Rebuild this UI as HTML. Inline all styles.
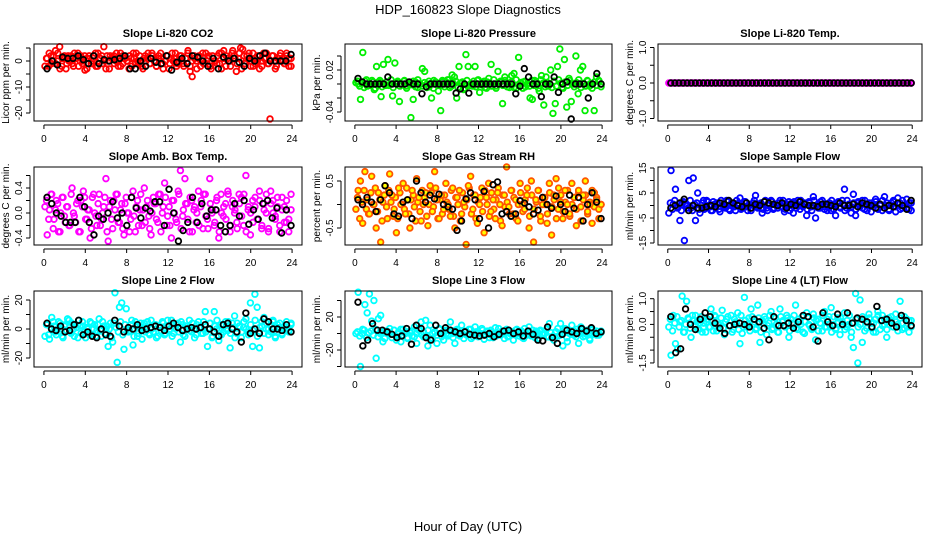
<!DOCTYPE html>
<html><head><meta charset="utf-8"><style>
html,body{margin:0;padding:0;background:#fff;}
svg{display:block;font-family:"Liberation Sans",Arial,sans-serif;}
</style></head><body>
<svg id="chart" width="936" height="540" viewBox="0 0 936 540" xmlns="http://www.w3.org/2000/svg">
<text x="468" y="14" text-anchor="middle" font-size="13">HDP_160823  Slope Diagnostics</text>
<text x="468" y="531" text-anchor="middle" font-size="13">Hour of Day (UTC)</text>
</svg>
<script>
const xTicks=[0,4,8,12,16,20,24];
const titles=["Slope Li-820 CO2","Slope Li-820 Pressure","Slope Li-820 Temp.","Slope Amb. Box Temp.","Slope Gas Stream RH","Slope Sample Flow","Slope Line 2 Flow","Slope Line 3 Flow","Slope Line 4 (LT) Flow"];
const yTitles=["Licor ppm per min.","kPa per min.","degrees C per min.","degrees C per min.","percent per min.","ml/min per min.","ml/min per min.","ml/min per min.","ml/min per min."];
const yTickVals=[[5,0,-5,-10,-15,-20],[0.04,0.02,0,-0.02,-0.04],[1,0.5,0,-0.5,-1],[0.6,0.4,0.2,0,-0.2,-0.4],[0.5,0,-0.5],[15,10,5,0,-5,-10,-15],[20,10,0,-10,-20],[40,20,0,-20,-40],[1,0.5,0,-0.5,-1,-1.5]];
const yTickLabels=[["","0","","-10","","-20"],["","0.02","","","-0.04"],["1.0","","0.0","","-1.0"],["","0.4","","0.0","","-0.4"],["0.5","","-0.5"],["15","","5","","-5","","-15"],["20","","0","","-20"],["","20","","-20",""],["1.0","","0.0","","","-1.5"]];
const colors=["#ff0000","#00ee00","#ff00ff","#ff00ff","#ff5500","#0000ff","#00ffff","#00ffff","#00ffff"];
const fills=["none","none","none","none","#ffff00","none","none","none","none"];

const co2Color=[-2,1,3,-1,2,4,0,5.5,-2,1,-3,2,0,-1,3,1,-2,2,0,-3.5,1,2,-1,0,3,-2,1,2,5.5,-3,0,2,1,-1,3,0,-2,2,1,0,-3,1,3,-1,0,2,-2,1,0,3,-1,2,0,-2,1,3,-1,0,2,-3,1,0,3,-1,2,0,-2,1,4,-4,-6,2,0,1,-2,3,-1,0,2,-3,1,0,2,-1,3,4,-2,1,0,3,2,-4,1,5,4.5,-1,2,3,0,-2,1,2,-3,0,3,1,-1,-22.3,2,0,-2,1,3,0,-1,2,1,-2];
const co2Band=[1,-2,2,0,-1,3,-3,1,2,-1,0,2,-2,1,3,0,-1,2,-3,1,0,2,-2,3,1,-1,0,2,-3,1,2,0,-2,3,-1,1,0,2,-2,1,3,-1,0,-3,2,1,-1,3,0,-2,2,1,-3,0,2,-1,3,1,-2,0,2,-1,1,3,-2,0,1,-3,2,0,-1,3,1,-2,2,0,-1,3,-3,1,2,0,-2,4,1,-1,3,-3,2,0,1,-2,3,-1,0,2,-2,1,3,-1,0,2,-3,1,2,0,-1,3,-2,1];
const co2Black=[-3,0,-1.5,1.5,1,1,2,0.5,-1,2,-1,0.5,0,0.5,1,2,-3,-3,0,-2,1,-0.5,-1,2,-3.5,-0.5,1,-1,2,1.5,0,-2,1,-3,1.5,0,1,-0.5,-2,1,0,2,3,0,0,0,0,2.5];
const presColor=[0.002,0,-0.022,0.045,0.004,-0.003,0,0.005,-0.008,0.025,0.003,-0.018,0.028,-0.002,0.035,0,-0.017,0.03,0.002,-0.025,0,0.004,-0.003,0,-0.048,-0.022,0.003,-0.005,0,0.022,0.018,0,-0.004,-0.02,0.005,0,-0.01,-0.038,0.003,0,0.006,-0.005,0.013,0.01,-0.02,0.025,0.002,-0.008,0.042,0.025,0,-0.003,0.025,0.005,-0.012,0,0.004,-0.006,0.008,0.028,0,-0.003,0.018,0.003,-0.028,0.01,0,-0.005,0.012,0.015,-0.006,0.038,0.002,0.003,-0.004,0,-0.02,-0.022,0.005,0,-0.01,0.012,-0.03,0.01,-0.003,0.02,-0.042,-0.028,0.025,0.05,-0.005,0.035,-0.033,0.008,-0.025,0,0.04,-0.014,0.02,0.025,-0.038,0.005,-0.003,0,-0.038,0.01,0.004,0];
const presBand=[0.004,-0.003,0.001,-0.005,0.006,0,-0.002,0.003,-0.006,0.002,0.005,-0.004,0,0.003,-0.002,0.006,-0.005,0.001,0.004,-0.003,0,0.005,-0.006,0.002,-0.001,0.004,-0.004,0.006,0,-0.003,0.002,-0.005,0.004,0.001,-0.006,0.003,0,-0.002,0.005,-0.004,0.002,0.006,-0.003,0,0.004,-0.005,0.001,0.003,-0.006,0.005,-0.002,0,0.004,-0.004,0.006,-0.001,0.002,-0.005,0.003,0,-0.003,0.006,-0.006,0.001,0.004,-0.002,0.005,-0.004,0,0.003,-0.005,0.006,-0.001,0.002,-0.006,0.004,0,-0.003,0.005,-0.002,0.003,-0.006,0.006,0.001,-0.004,0.002,0,-0.005,0.004,-0.003,0.006,0.001,-0.006,0.003,-0.002,0.005,0,-0.004,0.002,0.006,-0.005,0.001,-0.003,0.004,0,-0.006,0.003,-0.002,0.005,-0.004];
const presBlack=[0.008,0.003,0,0,0,0,0,0.01,0,0,0,0,0.003,0,0,-0.014,-0.004,0,0,0,0,0,0,-0.013,-0.007,0,-0.013,0,0,0,0,0,0,0,0,0,0,-0.014,-0.003,0.022,0.01,0,0,-0.018,0,0,0.01,-0.012,0,0.003,-0.05,0,0,0,-0.02,0,0.015,0];
const tempColor=[0,0,0,0,0,0,0,0,0,0,0,0,0,0,0,0,0,0,0,0,0,0,0,0,0,0,0,0,0,0,0,0,0,0,0,0,0,0,0,0,0,0,0,0,0,0,0,0,0,0,0,0,0,0,0,0,0,0,0,0,0,0,0,0,0,0,0,0,0,0,0,0,0,0,0,0,0,0,0,0];
const tempBand=[0,0,0,0,0,0,0,0,0,0,0,0,0,0,0,0,0,0,0,0,0,0,0,0,0,0,0,0,0,0,0,0,0,0,0,0,0,0,0,0,0,0,0,0,0,0,0,0,0,0,0,0,0,0,0,0,0,0,0,0,0,0,0,0,0,0,0,0,0,0,0,0,0,0,0,0,0,0,0,0,0,0,0,0,0,0,0,0,0,0,0,0,0,0,0,0,0,0,0,0,0,0,0,0,0,0,0,0,0,0,0,0,0,0,0,0,0,0,0,0];
const tempBlack=[0,0,0,0,0,0,0,0,0,0,0,0,0,0,0,0,0,0,0,0,0,0,0,0,0,0,0,0,0,0,0,0,0,0,0,0,0,0,0,0,0,0,0,0,0,0,0,0,0,0,0,0,0,0,0,0,0,0,0,0];
const boxColor=[0.1,-0.35,0.05,0.3,-0.1,0.2,-0.3,0.0,0.25,-0.15,0.1,-0.2,0.4,-0.05,0.15,-0.3,0.2,0.35,-0.1,0.05,-0.4,0.25,0.0,-0.2,0.3,-0.1,0.1,0.55,-0.45,0.2,-0.25,0.05,0.3,-0.15,0.15,-0.35,0.25,0.0,-0.1,0.35,-0.3,0.2,0.05,-0.2,0.4,0.1,-0.05,-0.35,0.25,0.15,-0.15,0.3,0.0,0.48,-0.2,0.1,-0.4,0.2,-0.1,0.35,0.68,-0.05,0.55,0.15,-0.3,0.2,0.05,-0.15,0.35,0.1,-0.25,0.3,-0.1,0.55,0.0,-0.2,0.2,-0.4,0.3,-0.05,0.15,0.35,-0.3,0.1,0.0,-0.15,0.3,0.25,-0.2,0.6,0.05,-0.35,0.2,0.1,-0.1,0.35,-0.25,0.15,0.0,-0.3,0.35,0.2,-0.1,0.25,-0.2,0.05,0.1,-0.15,-0.3,0.3];
const boxBand=[0.2,-0.1,0.3,-0.25,0.05,0.15,-0.3,0.25,-0.05,0.1,-0.2,0.3,0,-0.15,0.2,-0.3,0.1,0.25,-0.1,0.05,-0.25,0.3,-0.05,0.15,-0.2,0,0.25,-0.3,0.1,-0.1,0.2,0.3,-0.15,0.05,-0.25,0.15,0,-0.3,0.25,-0.05,0.1,-0.2,0.3,0.05,-0.15,0.2,-0.25,0,0.15,-0.1,0.3,-0.3,0.1,0.25,-0.05,-0.2,0.2,0,-0.15,0.3,-0.25,0.05,0.15,-0.1,0.25,-0.3,0.1,0,-0.2,0.2,0.3,-0.05,-0.25,0.15,0.05,-0.15,0.25,-0.3,0,0.1,-0.1,0.3,-0.2,0.2,0.05,-0.25,0.15,-0.05,0.3,-0.3,0.1,0,-0.15,0.25,-0.1,0.2,-0.2,0.05,0.3,-0.25,0.15,0,-0.05,0.1,-0.3,0.25,-0.15,0.2,-0.1,0.05];
const boxBlack=[0.25,0.15,0.0,-0.05,-0.15,-0.15,-0.15,0.25,0.1,-0.15,-0.35,-0.05,-0.1,0.0,0.18,-0.08,0.0,-0.2,0.25,0.08,-0.08,0.08,0.03,0.18,0.18,-0.2,0.38,0.0,-0.45,-0.28,-0.15,0.25,-0.15,0.15,-0.05,0.05,0.05,-0.2,-0.3,-0.2,0.15,-0.05,0.2,-0.18,0.05,-0.1,0.15,0.2,-0.08,0.08,-0.32,0.05,-0.2];
const rhColor=[-0.1,0.3,0.5,-0.4,0.7,0.1,-0.2,0.6,0.0,-0.5,0.25,-0.8,0.05,0.4,-0.3,0.65,0.2,-0.1,-0.6,0.35,0.0,0.45,-0.2,0.1,-0.5,0.3,-0.05,0.55,0.15,-0.35,0.0,0.25,-0.45,0.4,-0.15,0.7,0.1,-0.3,0.2,-0.1,0.45,0.0,-0.25,0.35,-0.5,0.15,0.3,-0.2,0.05,-0.85,0.4,0.6,-0.1,0.2,-0.4,0.0,0.35,-0.6,0.15,0.45,-0.15,0.1,-0.3,0.25,0.0,-0.45,0.2,0.8,-0.05,0.3,-0.2,0.1,-0.35,0.45,0.0,-0.1,0.2,-0.5,0.5,-0.8,0.1,0.3,-0.25,0.0,0.15,-0.4,0.45,-0.65,0.2,0.55,-0.1,0.05,-0.3,0.3,0.0,-0.2,0.45,0.15,-0.45,0.3,-0.05,0.2,0.5,-0.15,0.0,-0.4,0.25,0.1,-0.1,0.0];
const rhBand=[0.15,-0.3,0.05,0.3,-0.1,-0.2,0.25,0,0.35,-0.15,0.1,-0.35,0.2,-0.05,0.3,0.05,-0.25,0.15,-0.3,0.25,0,-0.1,0.35,-0.2,0.1,0.2,-0.35,0.05,-0.15,0.3,0.15,-0.25,0,0.25,-0.05,0.35,-0.3,0.1,-0.2,0.2,0.05,-0.1,0.3,-0.25,0.15,0,-0.35,0.25,-0.05,0.1,0.35,-0.2,0.2,-0.3,0.05,0.15,-0.15,0.3,0,-0.25,0.25,-0.1,0.1,0.35,-0.35,0.2,-0.05,0.05,-0.2,0.3,0.15,-0.3,0,0.25,-0.15,0.1,0.35,-0.25,0.2,-0.1,0.05,0.3,-0.35,0.15,0,-0.2,0.25,-0.05,0.1,-0.3,0.35,0.2,-0.15,0.05,0.3,-0.25,0,0.15,-0.1,0.25,-0.35,0.1,0.2,-0.2,0.05,0.3,-0.05,0.15,-0.3,0];
const rhBlack=[0.1,0.0,0.15,0.05,-0.15,0.1,0.4,0.25,-0.2,-0.25,0.05,0.1,-0.3,0.5,0.25,0.05,0.2,0.12,0.22,0.0,-0.05,-0.1,-0.55,-0.35,0.12,0.25,0.1,-0.3,0.28,-0.5,0.42,0.48,-0.2,-0.15,-0.25,-0.2,0.08,0.03,-0.05,-0.2,-0.12,0.15,0.0,-0.08,0.18,0.0,-0.15,0.2,-0.08,0.15,-0.35,0.0,0.25,0.05,-0.3];
const sampColor=[-3,14,0.5,6.5,-1,-6,1,-14,0.5,10,-1,11,-6,5,-3,1,-1.5,2,0,-2,1.5,-1,0.5,-2.5,1,-0.5,2,-1.5,0,1,-2,0.5,3,-1,1.5,-0.5,0,-2,1,4,-1,0.5,-3,1.5,-1,0,2,-1.5,0.5,-1,2,1,-2.5,0,1.5,-1,-3,0.5,2,-1.5,0,1,-4,1.5,-0.5,3.5,-5,0.5,-1,2,-1.5,0,1,-2,0.5,-4,1,-0.5,2,6.5,-1,0.5,-3,4.5,-4,1,-0.5,2,-1.5,0,1,-2.5,0.5,2.5,-1,0,-2,3.5,1,-1.5,0,2,-2.5,3,1,-1,0,2.5,-1.5,1];
const sampBand=[1,-1.5,2,-0.5,0.5,-2,1.5,0,-1,2,-2,0.5,1,-1.5,0,2,-1,1.5,-0.5,-2,0.5,1,-1.5,2,0,-1,1.5,-2,0.5,-0.5,2,1,-1.5,0,1.5,-2,0.5,-1,2,0,-0.5,1,-1.5,2,-2,0.5,1.5,-1,0,1,-0.5,2,-1.5,0.5,-2,1,1.5,-1,0,2,-0.5,0.5,-1.5,1,-2,2,0,-1,1.5,0.5,-0.5,-2,1,2,-1.5,0,1.5,-1,0.5,-2,2,0,-0.5,1,-1.5,1.5,0.5,-1,2,-2,0,1,-0.5,1.5,-1.5,0.5,2,-1,0,-2,1,1.5,-0.5,0.5,-1.5,2,0,-1,1,-2];
const sampBlack=[-1,0,1,2.5,-2,0,-1,-1,-0.5,0,-0.5,1,0.5,2,1,0,-0.5,1,-1,0.5,0,1.5,1,0.5,0,1,-1,0.5,0,1.5,0.5,0,0,-0.5,0.5,0.5,0,-0.5,1,0,0,0.5,-0.5,1,0.5,0,-1,0.5,-1,0,-0.5,1,0,-1.5,2];
const l2Color=[-5,3,-7,8,2,-4,5,0,-6,3,7,-2,4,-5,1,6,-3,2,-6,0,5,-4,3,-1,7,-5,2,0,-12,4,-9,25,-23,15,18,-14,14,-2,3,-11,5,-5,1,-7,4,0,-3,6,-2,3,-5,1,5,-4,2,-1,6,-3,0,4,-9,3,-5,2,6,-2,0,-4,5,1,-3,12,-12,4,-6,12,0,-8,3,-2,5,-1,-13,4,9,-3,2,-6,1,7,-2,18,-12,24,15,-13,5,8,0,-4,3,6,-5,1,4,-3,0,5,-2,3];
const l2Band=[3,-4,1,5,-2,0,4,-5,2,-1,6,-3,0,3,-6,2,5,-2,1,-4,4,0,-5,3,-1,5,-3,2,0,-6,4,1,-2,5,-4,3,0,-1,6,-5,2,-3,4,1,-2,5,-4,0,3,-6,2,-1,4,-3,6,0,-5,1,3,-2,5,-4,2,0,-1,4,-6,3,1,-3,5,-2,0,4,-5,2,6,-1,-4,3,0,5,-3,1,-6,4,2,-2,5,0,-4,3,-1,6,-5,1,2,-3,4,0,-2,5,-6,3,1,-4,2,0,-1,4];
const l2Black=[4,0,-1,2,-2,-1,3,6,-4,-2,-5,-6,0,-4,-5,6,2,-2,1,0,3,-1,0,1,2,1,-1,2,4,1,-1,0,1,0,1,3,0,-2,-5,3,4,0,-2,-9,11,-3,0,-3,7,5,0,0,-1,3,-2];
const l3Color=[0,50,-40,5,35,25,48,15,40,-30,18,22,-10,3,0,6,-5,4,-8,2,-10,5,0,-6,3,-3,8,-12,4,14,-4,16,-15,10,-6,2,-12,6,0,-8,4,-3,14,0,-12,5,-2,10,-6,3,-1,5,-4,8,0,-3,6,-7,2,-1,4,-5,7,-2,0,3,-6,5,-3,1,-8,4,0,2,-5,6,-2,8,-3,0,3,-6,4,-1,0,-4,12,-5,-8,2,-3,12,-15,6,-10,0,10,-2,5,-12,8,-4,0,4,-8,6,-1,3,-2,1];
const l3Band=[2,-3,0,4,-5,1,3,-2,5,-4,0,2,-6,3,1,-1,4,-3,0,5,-2,2,-5,1,3,-4,0,6,-1,2,-3,4,-6,0,1,-2,5,-4,3,0,-1,2,-5,4,1,-3,0,3,-2,5,-6,1,2,-4,0,4,-1,3,-5,2,0,-3,6,-2,1,4,-4,0,2,-1,5,-3,3,-6,0,1,-2,4,-5,2,3,-1,0,5,-4,1,-3,2,6,-2,0,4,-5,1,-1,3,-4,2,0,5,-3,1,-6,4,2,-2,0,3];
const l3Black=[38,-15,-8,12,4,4,2,-1,-5,-3,6,-13,10,6,-5,-8,10,0,7,4,2,0,2,-1,-2,-3,-2,0,-4,-1,3,4,0,2,-3,3,-1,-8,-9,8,-5,-12,-1,4,2,0,6,3,7,0,2];
const l4Color=[-0.1,-1.2,0.35,-0.75,-0.95,0.1,1.1,-0.3,0.9,0.2,-0.5,0.15,0.35,-0.2,0.05,-0.3,0.25,0.1,-0.1,0.6,-0.25,0.3,0.0,-0.15,0.55,-0.4,0.2,-0.05,0.35,-0.2,0.1,0.45,-0.75,-0.35,1.05,-0.1,0.25,0.6,0.0,-0.2,0.75,-0.7,0.15,0.3,-0.4,0.05,0.5,-0.15,0.25,-0.3,0.6,0.1,-0.05,0.35,-0.5,0.2,0.0,0.75,-0.2,0.1,0.3,-0.35,0.45,0.0,-0.15,0.4,-0.6,0.2,0.05,-0.25,0.5,-0.1,0.3,0.65,0.0,-0.2,0.25,-0.4,0.1,0.45,-0.1,0.0,-0.5,-0.9,1.2,-1.5,0.95,-0.7,0.2,-0.15,0.4,0.05,-0.3,0.2,0.5,-0.2,0.35,0.0,-0.5,0.25,0.15,-0.1,0.4,0.0,0.9,-0.2,0.3,-0.05,0.15,-0.1];
const l4Band=[0.2,-0.25,0.05,0.3,-0.1,0.15,-0.3,0,0.25,-0.15,0.35,-0.05,0.1,-0.2,0.3,0.05,-0.3,0.2,-0.1,0.15,0.35,-0.25,0,0.25,-0.15,0.1,0.3,-0.05,-0.3,0.2,0.05,-0.2,0.35,-0.1,0.15,0,-0.25,0.3,0.1,-0.15,0.25,-0.3,0.05,0.2,-0.05,0.35,-0.2,0.1,0,-0.3,0.3,0.15,-0.1,0.25,-0.25,0.05,0.35,-0.15,0.2,0,-0.3,0.1,0.3,-0.05,-0.2,0.25,0.15,-0.25,0.05,0.35,-0.1,0.2,0,-0.3,0.3,-0.15,0.1,0.25,-0.05,-0.2,0.15,0.35,-0.3,0.05,0.2,-0.1,0,0.3,-0.25,0.1,0.25,-0.15,0.05,-0.3,0.35,0.15,-0.05,0.2,-0.2,0,0.3,-0.1,0.1,-0.25,0.25,0.05,-0.15,0.2,-0.3,0.15];
const l4Black=[0.3,-1.1,-0.95,0.6,0.0,-0.2,0.2,0.45,0.3,0.05,-0.15,-0.35,-0.05,0.0,0.05,0.0,-0.1,0.2,0.1,-0.15,-0.6,0.3,-0.05,-0.05,0.05,-0.15,0.1,0.35,0.3,-0.1,-0.65,0.45,0.1,-0.05,0.4,0.0,0.45,0.05,0.25,0.2,0.1,-0.1,0.7,0.15,0.2,0.05,-0.1,0.35,0.15,-0.05];

const bandSeries=[co2Band,presBand,tempBand,boxBand,rhBand,sampBand,l2Band,l3Band,l4Band];
const colorSeries=[co2Color,presColor,tempColor,boxColor,rhColor,sampColor,l2Color,l3Color,l4Color];
const blackSeries=[co2Black,presBlack,tempBlack,boxBlack,rhBlack,sampBlack,l2Black,l3Black,l4Black];

const cols=[[34,302],[345,612],[658,922]];
const rows=[[44,121],[167,245],[291,367]];
const zeroPx=[61,84,83,213,204.5,205.5,329,333.5,324.4];
const pxPerUnit=[2.6,700,35.5,62.5,47,2.5,1.45,0.825,25.7];

const NS="http://www.w3.org/2000/svg";
const svg=document.getElementById('chart');
function mk(tag,attrs,parent){const e=document.createElementNS(NS,tag);for(const k in attrs)e.setAttribute(k,attrs[k]);(parent||svg).appendChild(e);return e;}

for(let p=0;p<9;p++){
  const [L,R]=cols[p%3],[T,B]=rows[Math.floor(p/3)];
  const pw=(R-L)/1.08, x0=L+0.04*pw;
  const xs=t=>x0+t/24*pw;
  const ys=v=>zeroPx[p]-v*pxPerUnit[p];
  const g=mk('g',{});
  
  
  const ttl=mk('text',{x:(L+R)/2,y:T-7,'text-anchor':'middle','font-size':11,'font-weight':'bold'},g);
  ttl.textContent=titles[p];
  
  
  const xa=mk('g',{},g);
  
  
  mk('line',{x1:xs(0),x2:xs(24),y1:B+4,y2:B+4,stroke:'#000'},xa);
  xTicks.forEach(t=>{
    mk('line',{x1:xs(t),x2:xs(t),y1:B+4,y2:B+8,stroke:'#000'},xa);
    const tx=mk('text',{x:xs(t),y:B+21,'text-anchor':'middle','font-size':10},xa);
    tx.textContent=t;
    
    
  });
  const ya=mk('g',{},g);
  
  
  const tv=yTickVals[p];
  mk('line',{x1:L-4,x2:L-4,y1:ys(tv[0]),y2:ys(tv[tv.length-1]),stroke:'#000'},ya);
  tv.forEach((v,i)=>{
    const y=ys(v);
    mk('line',{x1:L-8,x2:L-4,y1:y,y2:y,stroke:'#000'},ya);
    const lab=yTickLabels[p][i];
    if(lab){
      const tx=mk('text',{x:L-12,y:y,'text-anchor':'middle','font-size':10,transform:`rotate(-90 ${L-12} ${y})`},ya);
      tx.textContent=lab;
      
      
    }
  });
  const yt=mk('text',{x:L-25,y:(T+B)/2,'text-anchor':'middle','font-size':10,transform:`rotate(-90 ${L-25} ${(T+B)/2})`},g);
  yt.textContent=yTitles[p];
  
  
  [[bandSeries[p],colors[p],fills[p],'color-band-series',0.25],[colorSeries[p],colors[p],fills[p],'color-series',0.1],[blackSeries[p],'#000','none','black-series',0.3]].forEach(([vals,c,f,nm,off])=>{
    const sg=mk('g',{},g);
    
    
    const n=vals.length;
    vals.forEach((v,i)=>{
      const t=off+i*(23.9-off)/(n-1);
      const pt=mk('circle',{cx:xs(t),cy:ys(v),r:2.8,fill:f,stroke:c,'stroke-width':1.8},sg);
      
      
    });
  });
  const box=mk('rect',{x:L,y:T,width:R-L,height:B-T,fill:'none',stroke:'#000','stroke-width':1},g);
  
  
}
</script>
</body></html>
